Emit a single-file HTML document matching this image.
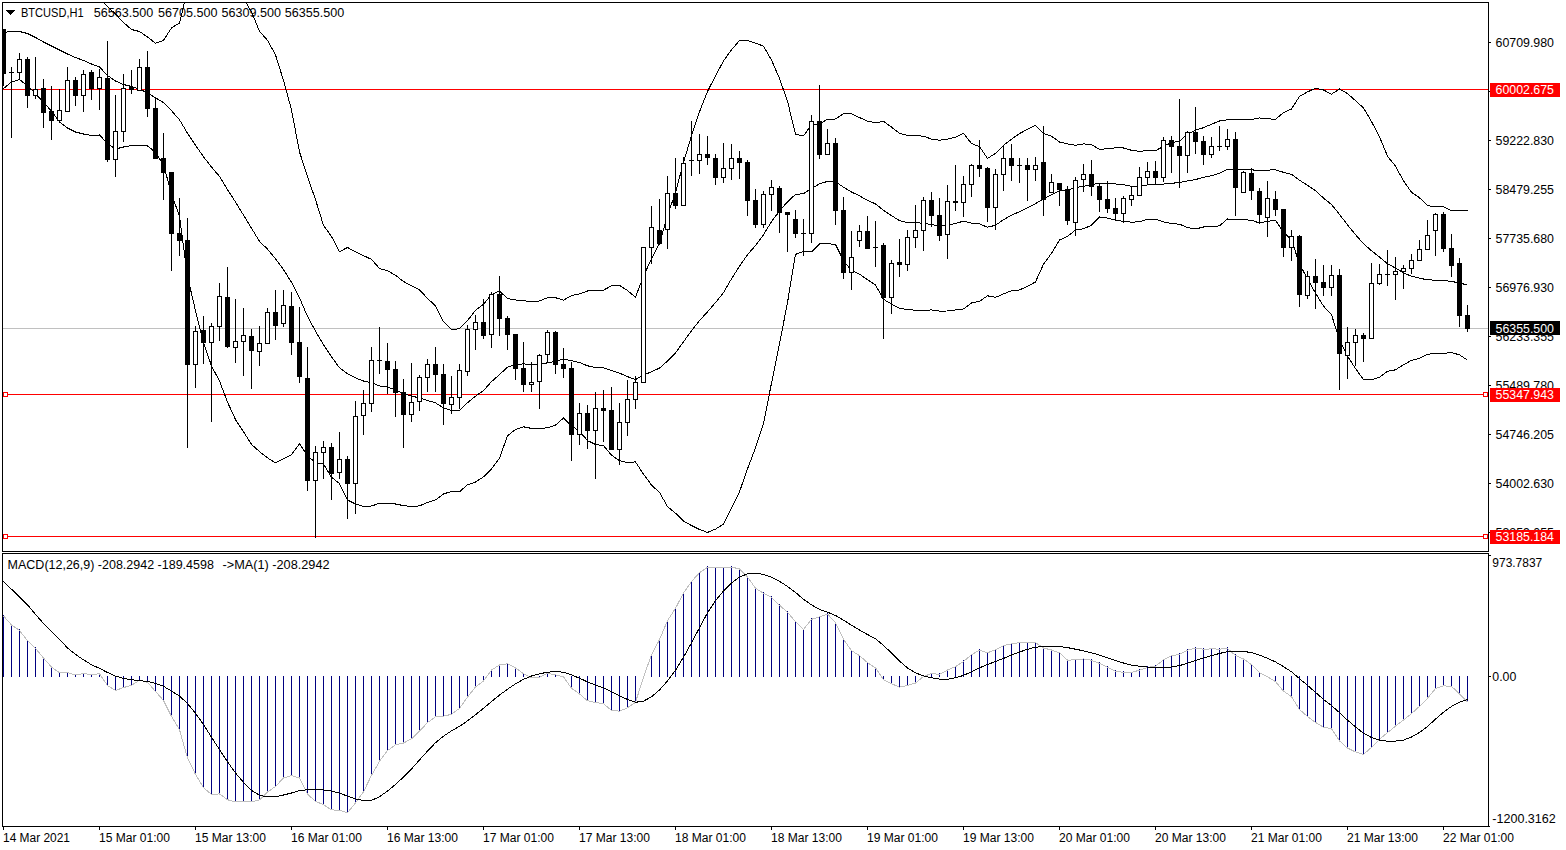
<!DOCTYPE html><html><head><meta charset="utf-8"><style>html,body{margin:0;padding:0;background:#fff;width:1566px;height:850px;overflow:hidden;position:relative}</style></head><body><svg width="1566" height="850" viewBox="0 0 1566 850" style="position:absolute;left:0;top:0"><defs><clipPath id="cm"><rect x="3" y="3" width="1485" height="548"/></clipPath><clipPath id="cd"><rect x="3" y="554" width="1485" height="272"/></clipPath></defs><g shape-rendering="crispEdges"><rect x="2" y="2" width="1487" height="1" fill="#000"/><rect x="2" y="551" width="1487" height="1" fill="#000"/><rect x="2" y="2" width="1" height="550" fill="#000"/><rect x="1488" y="2" width="1" height="550" fill="#000"/><rect x="2" y="553" width="1487" height="1" fill="#000"/><rect x="2" y="826" width="1487" height="1" fill="#000"/><rect x="2" y="553" width="1" height="274" fill="#000"/><rect x="1488" y="553" width="1" height="274" fill="#000"/></g><g clip-path="url(#cm)" shape-rendering="crispEdges"><rect x="3" y="328" width="1485" height="1" fill="#c0c0c0"/><rect x="3" y="89" width="1485" height="1" fill="#ff0000"/><rect x="3" y="394" width="1485" height="1" fill="#ff0000"/><rect x="3" y="536" width="1485" height="1" fill="#ff0000"/><rect x="3.5" y="392.5" width="4" height="4" fill="#fff" stroke="#ff0000" stroke-width="1"/><rect x="1483.5" y="392.5" width="4" height="4" fill="#fff" stroke="#ff0000" stroke-width="1"/><rect x="3.5" y="534.5" width="4" height="4" fill="#fff" stroke="#ff0000" stroke-width="1"/><rect x="1483.5" y="534.5" width="4" height="4" fill="#fff" stroke="#ff0000" stroke-width="1"/><polyline points="3.5,-29.5 11.5,-29.5 19.5,-29.5 27.5,-29.5 35.5,-29.5 43.5,-29.5 51.5,-29.5 59.5,-29.5 67.5,-29.5 75.5,-29.5 83.5,-29.5 91.5,-24.5 99.5,-1.5 107.5,6.5 115.5,14.0 123.5,22.5 131.5,29.5 139.5,31.5 147.5,37.0 155.5,43.2 163.5,40.4 171.5,27.9 179.5,23.0 187.5,-10.0 195.5,-20.2 203.5,-28.8 211.5,-31.7 219.5,-28.2 227.5,-22.7 235.5,-15.6 243.5,-1.7 251.5,11.9 259.5,31.3 267.5,40.3 275.5,54.8 283.5,80.5 291.5,109.9 299.5,151.8 307.5,176.9 315.5,199.5 323.5,225.5 331.5,236.4 339.5,251.9 347.5,247.4 355.5,251.9 363.5,255.6 371.5,259.4 379.5,268.5 387.5,270.8 395.5,275.2 403.5,281.5 411.5,285.8 419.5,289.8 427.5,298.4 435.5,305.9 443.5,321.7 451.5,329.6 459.5,328.7 467.5,320.6 475.5,310.4 483.5,304.3 491.5,294.5 499.5,291.1 507.5,298.5 515.5,300.0 523.5,300.8 531.5,301.4 539.5,301.0 547.5,297.7 555.5,297.7 563.5,300.1 571.5,295.7 579.5,293.8 587.5,291.0 595.5,290.5 603.5,290.1 611.5,285.8 619.5,285.4 627.5,290.5 635.5,297.2 643.5,276.1 651.5,258.6 659.5,243.6 667.5,215.5 675.5,192.5 683.5,162.4 691.5,135.9 699.5,111.8 707.5,91.4 715.5,76.0 723.5,60.9 731.5,49.7 739.5,40.6 747.5,40.6 755.5,43.1 763.5,46.1 771.5,60.1 779.5,78.5 787.5,101.1 795.5,134.4 803.5,135.9 811.5,124.8 819.5,124.0 827.5,119.2 835.5,119.0 843.5,113.7 851.5,113.6 859.5,117.6 867.5,121.1 875.5,122.8 883.5,121.4 891.5,127.1 899.5,133.3 907.5,135.3 915.5,135.6 923.5,136.2 931.5,139.1 939.5,140.3 947.5,139.1 955.5,137.1 963.5,133.2 971.5,143.6 979.5,146.5 987.5,158.5 995.5,153.3 1003.5,145.4 1011.5,139.3 1019.5,133.5 1027.5,129.4 1035.5,125.4 1043.5,133.4 1051.5,136.2 1059.5,142.0 1067.5,143.9 1075.5,145.2 1083.5,143.9 1091.5,144.6 1099.5,149.3 1107.5,148.8 1115.5,147.8 1123.5,148.0 1131.5,150.3 1139.5,151.4 1147.5,150.4 1155.5,150.7 1163.5,146.3 1171.5,142.7 1179.5,141.1 1187.5,134.1 1195.5,130.2 1203.5,127.7 1211.5,124.2 1219.5,121.0 1227.5,119.7 1235.5,119.6 1243.5,119.5 1251.5,119.4 1259.5,118.0 1267.5,118.8 1275.5,119.3 1283.5,112.5 1291.5,109.0 1299.5,96.4 1307.5,91.9 1315.5,88.2 1323.5,90.0 1331.5,94.2 1339.5,89.0 1347.5,93.6 1355.5,100.7 1363.5,108.0 1371.5,121.5 1379.5,136.8 1387.5,156.2 1395.5,166.2 1403.5,180.9 1411.5,192.2 1419.5,197.8 1427.5,205.6 1435.5,206.8 1443.5,206.9 1451.5,210.8 1459.5,210.5 1467.5,210.5" fill="none" stroke="#000" stroke-width="1" /><polyline points="3.5,32.5 11.5,31.5 19.5,31.5 27.5,33.5 35.5,37.5 43.5,42.0 51.5,46.0 59.5,50.0 67.5,54.0 75.5,57.5 83.5,60.5 91.5,64.0 99.5,67.0 107.5,75.5 115.5,81.0 123.5,84.5 131.5,86.5 139.5,89.0 147.5,93.0 155.5,97.7 163.5,102.7 171.5,110.7 179.5,119.8 187.5,133.2 195.5,145.3 203.5,156.8 211.5,167.1 219.5,176.4 227.5,189.7 235.5,202.0 243.5,215.1 251.5,228.2 259.5,241.4 267.5,249.1 275.5,258.8 283.5,269.6 291.5,282.3 299.5,297.8 307.5,316.4 315.5,331.1 323.5,344.8 331.5,356.8 339.5,367.8 347.5,373.7 355.5,377.9 363.5,381.0 371.5,382.7 379.5,385.9 387.5,387.1 395.5,389.6 403.5,393.6 411.5,396.1 419.5,397.9 427.5,400.4 435.5,402.9 443.5,407.8 451.5,410.6 459.5,410.2 467.5,402.7 475.5,396.2 483.5,390.6 491.5,381.6 499.5,374.6 507.5,367.1 515.5,364.8 523.5,363.8 531.5,364.9 539.5,364.6 547.5,362.8 555.5,361.4 563.5,359.1 571.5,360.7 579.5,362.5 587.5,365.8 595.5,367.5 603.5,367.9 611.5,370.4 619.5,373.1 627.5,376.6 635.5,379.6 643.5,375.1 651.5,371.8 659.5,368.1 667.5,361.0 675.5,352.9 683.5,341.8 691.5,330.7 699.5,320.6 707.5,311.9 715.5,302.6 723.5,292.6 731.5,278.8 739.5,266.2 747.5,254.7 755.5,245.5 763.5,234.7 771.5,221.6 779.5,211.1 787.5,201.8 795.5,194.4 803.5,193.7 811.5,188.4 819.5,183.9 827.5,181.4 835.5,181.7 843.5,187.2 851.5,192.0 859.5,195.8 867.5,200.4 875.5,203.9 883.5,210.3 891.5,215.6 899.5,220.7 907.5,222.6 915.5,222.8 923.5,223.2 931.5,224.6 939.5,225.7 947.5,225.1 955.5,223.5 963.5,221.1 971.5,223.2 979.5,223.9 987.5,227.2 995.5,225.3 1003.5,219.7 1011.5,215.1 1019.5,211.8 1027.5,207.8 1035.5,203.7 1043.5,198.8 1051.5,194.8 1059.5,191.0 1067.5,190.2 1075.5,187.7 1083.5,186.3 1091.5,184.9 1099.5,183.1 1107.5,183.4 1115.5,184.0 1123.5,184.7 1131.5,186.2 1139.5,186.7 1147.5,184.8 1155.5,185.0 1163.5,184.1 1171.5,183.2 1179.5,182.7 1187.5,180.8 1195.5,179.6 1203.5,177.3 1211.5,175.6 1219.5,173.4 1227.5,169.3 1235.5,169.7 1243.5,169.6 1251.5,169.8 1259.5,170.6 1267.5,170.1 1275.5,169.8 1283.5,172.3 1291.5,174.3 1299.5,180.2 1307.5,185.4 1315.5,190.7 1323.5,198.1 1331.5,204.5 1339.5,214.4 1347.5,224.9 1355.5,234.6 1363.5,243.8 1371.5,250.7 1379.5,257.1 1387.5,263.8 1395.5,268.0 1403.5,272.8 1411.5,276.3 1419.5,278.1 1427.5,279.9 1435.5,280.1 1443.5,280.2 1451.5,281.6 1459.5,282.7 1467.5,285.3" fill="none" stroke="#000" stroke-width="1" /><polyline points="3.5,88.5 11.5,82.0 19.5,79.5 27.5,86.0 35.5,93.5 43.5,102.5 51.5,111.0 59.5,122.0 67.5,128.0 75.5,132.0 83.5,134.0 91.5,135.5 99.5,135.0 107.5,143.5 115.5,149.0 123.5,147.0 131.5,145.5 139.5,145.5 147.5,146.0 155.5,152.2 163.5,164.9 171.5,193.5 179.5,216.5 187.5,276.4 195.5,310.8 203.5,342.4 211.5,365.9 219.5,381.0 227.5,402.1 235.5,419.6 243.5,431.8 251.5,444.4 259.5,451.6 267.5,457.9 275.5,462.8 283.5,458.8 291.5,454.7 299.5,443.7 307.5,455.8 315.5,462.6 323.5,464.1 331.5,477.2 339.5,483.6 347.5,500.0 355.5,504.0 363.5,506.4 371.5,506.0 379.5,503.3 387.5,503.3 395.5,504.0 403.5,505.6 411.5,506.5 419.5,505.9 427.5,502.5 435.5,499.9 443.5,493.9 451.5,491.5 459.5,491.8 467.5,484.8 475.5,482.0 483.5,476.9 491.5,468.8 499.5,458.1 507.5,435.8 515.5,429.5 523.5,426.8 531.5,428.4 539.5,428.3 547.5,427.9 555.5,425.1 563.5,418.1 571.5,425.7 579.5,431.2 587.5,440.6 595.5,444.5 603.5,445.6 611.5,455.1 619.5,460.7 627.5,462.6 635.5,461.9 643.5,474.2 651.5,485.0 659.5,492.5 667.5,506.5 675.5,513.2 683.5,521.2 691.5,525.5 699.5,529.5 707.5,532.4 715.5,529.1 723.5,524.2 731.5,507.8 739.5,491.8 747.5,468.8 755.5,447.9 763.5,423.3 771.5,383.1 779.5,343.7 787.5,302.6 795.5,254.4 803.5,251.5 811.5,252.0 819.5,243.9 827.5,243.7 835.5,244.4 843.5,260.6 851.5,270.4 859.5,274.1 867.5,279.7 875.5,285.0 883.5,299.3 891.5,304.1 899.5,308.1 907.5,309.8 915.5,310.1 923.5,310.1 931.5,310.0 939.5,311.1 947.5,311.0 955.5,309.9 963.5,308.9 971.5,302.9 979.5,301.4 987.5,295.8 995.5,297.4 1003.5,293.9 1011.5,290.8 1019.5,290.0 1027.5,286.2 1035.5,282.0 1043.5,264.2 1051.5,253.3 1059.5,240.0 1067.5,236.4 1075.5,230.1 1083.5,228.8 1091.5,225.2 1099.5,216.9 1107.5,218.1 1115.5,220.2 1123.5,221.4 1131.5,222.1 1139.5,221.9 1147.5,219.3 1155.5,219.3 1163.5,221.9 1171.5,223.6 1179.5,224.2 1187.5,227.5 1195.5,229.0 1203.5,227.0 1211.5,226.9 1219.5,225.8 1227.5,219.0 1235.5,219.8 1243.5,219.7 1251.5,220.2 1259.5,223.1 1267.5,221.3 1275.5,220.4 1283.5,232.1 1291.5,239.7 1299.5,264.0 1307.5,279.0 1315.5,293.2 1323.5,306.1 1331.5,314.8 1339.5,339.8 1347.5,356.2 1355.5,368.5 1363.5,379.6 1371.5,379.8 1379.5,377.3 1387.5,371.4 1395.5,369.8 1403.5,364.7 1411.5,360.4 1419.5,358.3 1427.5,354.2 1435.5,353.5 1443.5,353.5 1451.5,352.5 1459.5,354.9 1467.5,360.1" fill="none" stroke="#000" stroke-width="1" /><rect x="3" y="29" width="1" height="57" fill="#000"/><rect x="1" y="29" width="5" height="45" fill="#000"/><rect x="11" y="67" width="1" height="71" fill="#000"/><rect x="9" y="72" width="5" height="1" fill="#000"/><rect x="19" y="53" width="1" height="26" fill="#000"/><rect x="17" y="59" width="5" height="14" fill="#000"/><rect x="18" y="60" width="3" height="12" fill="#fff"/><rect x="27" y="57" width="1" height="51" fill="#000"/><rect x="25" y="59" width="5" height="37" fill="#000"/><rect x="35" y="57" width="1" height="42" fill="#000"/><rect x="33" y="89" width="5" height="7" fill="#000"/><rect x="34" y="90" width="3" height="5" fill="#fff"/><rect x="43" y="79" width="1" height="49" fill="#000"/><rect x="41" y="88" width="5" height="25" fill="#000"/><rect x="51" y="86" width="1" height="54" fill="#000"/><rect x="49" y="111" width="5" height="10" fill="#000"/><rect x="59" y="89" width="1" height="34" fill="#000"/><rect x="57" y="110" width="5" height="11" fill="#000"/><rect x="58" y="111" width="3" height="9" fill="#fff"/><rect x="67" y="67" width="1" height="45" fill="#000"/><rect x="65" y="80" width="5" height="32" fill="#000"/><rect x="66" y="81" width="3" height="30" fill="#fff"/><rect x="75" y="77" width="1" height="29" fill="#000"/><rect x="73" y="80" width="5" height="16" fill="#000"/><rect x="83" y="70" width="1" height="42" fill="#000"/><rect x="81" y="74" width="5" height="22" fill="#000"/><rect x="82" y="75" width="3" height="20" fill="#fff"/><rect x="91" y="70" width="1" height="30" fill="#000"/><rect x="89" y="72" width="5" height="17" fill="#000"/><rect x="99" y="69" width="1" height="41" fill="#000"/><rect x="97" y="77" width="5" height="12" fill="#000"/><rect x="98" y="78" width="3" height="10" fill="#fff"/><rect x="107" y="41" width="1" height="121" fill="#000"/><rect x="105" y="78" width="5" height="82" fill="#000"/><rect x="115" y="95" width="1" height="82" fill="#000"/><rect x="113" y="131" width="5" height="29" fill="#000"/><rect x="114" y="132" width="3" height="27" fill="#fff"/><rect x="123" y="74" width="1" height="68" fill="#000"/><rect x="121" y="88" width="5" height="44" fill="#000"/><rect x="122" y="89" width="3" height="42" fill="#fff"/><rect x="131" y="70" width="1" height="24" fill="#000"/><rect x="129" y="87" width="5" height="3" fill="#000"/><rect x="139" y="59" width="1" height="32" fill="#000"/><rect x="137" y="67" width="5" height="24" fill="#000"/><rect x="138" y="68" width="3" height="22" fill="#fff"/><rect x="147" y="51" width="1" height="66" fill="#000"/><rect x="145" y="67" width="5" height="42" fill="#000"/><rect x="155" y="97" width="1" height="62" fill="#000"/><rect x="153" y="108" width="5" height="51" fill="#000"/><rect x="163" y="133" width="1" height="67" fill="#000"/><rect x="161" y="158" width="5" height="15" fill="#000"/><rect x="171" y="172" width="1" height="99" fill="#000"/><rect x="169" y="172" width="5" height="62" fill="#000"/><rect x="179" y="198" width="1" height="58" fill="#000"/><rect x="177" y="233" width="5" height="8" fill="#000"/><rect x="187" y="218" width="1" height="230" fill="#000"/><rect x="185" y="240" width="5" height="125" fill="#000"/><rect x="195" y="326" width="1" height="62" fill="#000"/><rect x="193" y="331" width="5" height="34" fill="#000"/><rect x="194" y="332" width="3" height="32" fill="#fff"/><rect x="203" y="316" width="1" height="48" fill="#000"/><rect x="201" y="330" width="5" height="13" fill="#000"/><rect x="211" y="323" width="1" height="99" fill="#000"/><rect x="209" y="326" width="5" height="17" fill="#000"/><rect x="210" y="327" width="3" height="15" fill="#fff"/><rect x="219" y="283" width="1" height="58" fill="#000"/><rect x="217" y="296" width="5" height="31" fill="#000"/><rect x="218" y="297" width="3" height="29" fill="#fff"/><rect x="227" y="267" width="1" height="81" fill="#000"/><rect x="225" y="297" width="5" height="50" fill="#000"/><rect x="235" y="299" width="1" height="64" fill="#000"/><rect x="233" y="341" width="5" height="7" fill="#000"/><rect x="234" y="342" width="3" height="5" fill="#fff"/><rect x="243" y="308" width="1" height="68" fill="#000"/><rect x="241" y="335" width="5" height="7" fill="#000"/><rect x="242" y="336" width="3" height="5" fill="#fff"/><rect x="251" y="329" width="1" height="60" fill="#000"/><rect x="249" y="336" width="5" height="15" fill="#000"/><rect x="259" y="326" width="1" height="40" fill="#000"/><rect x="257" y="343" width="5" height="9" fill="#000"/><rect x="258" y="344" width="3" height="7" fill="#fff"/><rect x="267" y="308" width="1" height="36" fill="#000"/><rect x="265" y="312" width="5" height="32" fill="#000"/><rect x="266" y="313" width="3" height="30" fill="#fff"/><rect x="275" y="290" width="1" height="50" fill="#000"/><rect x="273" y="312" width="5" height="14" fill="#000"/><rect x="283" y="290" width="1" height="37" fill="#000"/><rect x="281" y="305" width="5" height="19" fill="#000"/><rect x="282" y="306" width="3" height="17" fill="#fff"/><rect x="291" y="292" width="1" height="63" fill="#000"/><rect x="289" y="306" width="5" height="37" fill="#000"/><rect x="299" y="307" width="1" height="76" fill="#000"/><rect x="297" y="342" width="5" height="35" fill="#000"/><rect x="307" y="347" width="1" height="144" fill="#000"/><rect x="305" y="378" width="5" height="103" fill="#000"/><rect x="315" y="446" width="1" height="92" fill="#000"/><rect x="313" y="452" width="5" height="29" fill="#000"/><rect x="314" y="453" width="3" height="27" fill="#fff"/><rect x="323" y="441" width="1" height="38" fill="#000"/><rect x="321" y="447" width="5" height="6" fill="#000"/><rect x="322" y="448" width="3" height="4" fill="#fff"/><rect x="331" y="443" width="1" height="57" fill="#000"/><rect x="329" y="447" width="5" height="27" fill="#000"/><rect x="339" y="432" width="1" height="47" fill="#000"/><rect x="337" y="459" width="5" height="14" fill="#000"/><rect x="338" y="460" width="3" height="12" fill="#fff"/><rect x="347" y="456" width="1" height="63" fill="#000"/><rect x="345" y="459" width="5" height="25" fill="#000"/><rect x="355" y="401" width="1" height="113" fill="#000"/><rect x="353" y="416" width="5" height="68" fill="#000"/><rect x="354" y="417" width="3" height="66" fill="#fff"/><rect x="363" y="390" width="1" height="45" fill="#000"/><rect x="361" y="403" width="5" height="13" fill="#000"/><rect x="362" y="404" width="3" height="11" fill="#fff"/><rect x="371" y="347" width="1" height="65" fill="#000"/><rect x="369" y="360" width="5" height="44" fill="#000"/><rect x="370" y="361" width="3" height="42" fill="#fff"/><rect x="379" y="327" width="1" height="47" fill="#000"/><rect x="377" y="360" width="5" height="1" fill="#000"/><rect x="387" y="343" width="1" height="51" fill="#000"/><rect x="385" y="361" width="5" height="9" fill="#000"/><rect x="395" y="361" width="1" height="56" fill="#000"/><rect x="393" y="369" width="5" height="24" fill="#000"/><rect x="403" y="379" width="1" height="69" fill="#000"/><rect x="401" y="392" width="5" height="23" fill="#000"/><rect x="411" y="363" width="1" height="59" fill="#000"/><rect x="409" y="402" width="5" height="13" fill="#000"/><rect x="410" y="403" width="3" height="11" fill="#fff"/><rect x="419" y="375" width="1" height="36" fill="#000"/><rect x="417" y="377" width="5" height="25" fill="#000"/><rect x="418" y="378" width="3" height="23" fill="#fff"/><rect x="427" y="359" width="1" height="33" fill="#000"/><rect x="425" y="364" width="5" height="14" fill="#000"/><rect x="426" y="365" width="3" height="12" fill="#fff"/><rect x="435" y="347" width="1" height="45" fill="#000"/><rect x="433" y="364" width="5" height="11" fill="#000"/><rect x="443" y="364" width="1" height="61" fill="#000"/><rect x="441" y="374" width="5" height="30" fill="#000"/><rect x="451" y="376" width="1" height="38" fill="#000"/><rect x="449" y="397" width="5" height="8" fill="#000"/><rect x="450" y="398" width="3" height="6" fill="#fff"/><rect x="459" y="364" width="1" height="45" fill="#000"/><rect x="457" y="370" width="5" height="28" fill="#000"/><rect x="458" y="371" width="3" height="26" fill="#fff"/><rect x="467" y="325" width="1" height="51" fill="#000"/><rect x="465" y="329" width="5" height="43" fill="#000"/><rect x="466" y="330" width="3" height="41" fill="#fff"/><rect x="475" y="315" width="1" height="35" fill="#000"/><rect x="473" y="322" width="5" height="8" fill="#000"/><rect x="474" y="323" width="3" height="6" fill="#fff"/><rect x="483" y="299" width="1" height="40" fill="#000"/><rect x="481" y="322" width="5" height="14" fill="#000"/><rect x="491" y="292" width="1" height="56" fill="#000"/><rect x="489" y="294" width="5" height="41" fill="#000"/><rect x="490" y="295" width="3" height="39" fill="#fff"/><rect x="499" y="276" width="1" height="60" fill="#000"/><rect x="497" y="294" width="5" height="25" fill="#000"/><rect x="507" y="316" width="1" height="34" fill="#000"/><rect x="505" y="318" width="5" height="17" fill="#000"/><rect x="515" y="334" width="1" height="46" fill="#000"/><rect x="513" y="334" width="5" height="35" fill="#000"/><rect x="523" y="342" width="1" height="50" fill="#000"/><rect x="521" y="368" width="5" height="17" fill="#000"/><rect x="531" y="362" width="1" height="30" fill="#000"/><rect x="529" y="382" width="5" height="3" fill="#000"/><rect x="530" y="383" width="3" height="1" fill="#fff"/><rect x="539" y="354" width="1" height="55" fill="#000"/><rect x="537" y="355" width="5" height="27" fill="#000"/><rect x="538" y="356" width="3" height="25" fill="#fff"/><rect x="547" y="330" width="1" height="33" fill="#000"/><rect x="545" y="332" width="5" height="23" fill="#000"/><rect x="546" y="333" width="3" height="21" fill="#fff"/><rect x="555" y="331" width="1" height="43" fill="#000"/><rect x="553" y="332" width="5" height="33" fill="#000"/><rect x="563" y="348" width="1" height="30" fill="#000"/><rect x="561" y="364" width="5" height="5" fill="#000"/><rect x="571" y="362" width="1" height="99" fill="#000"/><rect x="569" y="368" width="5" height="67" fill="#000"/><rect x="579" y="403" width="1" height="42" fill="#000"/><rect x="577" y="413" width="5" height="22" fill="#000"/><rect x="578" y="414" width="3" height="20" fill="#fff"/><rect x="587" y="405" width="1" height="44" fill="#000"/><rect x="585" y="413" width="5" height="18" fill="#000"/><rect x="595" y="392" width="1" height="87" fill="#000"/><rect x="593" y="408" width="5" height="23" fill="#000"/><rect x="594" y="409" width="3" height="21" fill="#fff"/><rect x="603" y="390" width="1" height="52" fill="#000"/><rect x="601" y="408" width="5" height="3" fill="#000"/><rect x="611" y="387" width="1" height="63" fill="#000"/><rect x="609" y="410" width="5" height="40" fill="#000"/><rect x="619" y="403" width="1" height="62" fill="#000"/><rect x="617" y="422" width="5" height="28" fill="#000"/><rect x="618" y="423" width="3" height="26" fill="#fff"/><rect x="627" y="380" width="1" height="56" fill="#000"/><rect x="625" y="399" width="5" height="24" fill="#000"/><rect x="626" y="400" width="3" height="22" fill="#fff"/><rect x="635" y="376" width="1" height="33" fill="#000"/><rect x="633" y="382" width="5" height="18" fill="#000"/><rect x="634" y="383" width="3" height="16" fill="#fff"/><rect x="643" y="247" width="1" height="136" fill="#000"/><rect x="641" y="247" width="5" height="136" fill="#000"/><rect x="642" y="248" width="3" height="134" fill="#fff"/><rect x="651" y="206" width="1" height="58" fill="#000"/><rect x="649" y="227" width="5" height="21" fill="#000"/><rect x="650" y="228" width="3" height="19" fill="#fff"/><rect x="659" y="199" width="1" height="45" fill="#000"/><rect x="657" y="230" width="5" height="14" fill="#000"/><rect x="667" y="176" width="1" height="73" fill="#000"/><rect x="665" y="193" width="5" height="37" fill="#000"/><rect x="666" y="194" width="3" height="35" fill="#fff"/><rect x="675" y="158" width="1" height="51" fill="#000"/><rect x="673" y="193" width="5" height="13" fill="#000"/><rect x="683" y="157" width="1" height="49" fill="#000"/><rect x="681" y="163" width="5" height="43" fill="#000"/><rect x="682" y="164" width="3" height="41" fill="#fff"/><rect x="691" y="121" width="1" height="55" fill="#000"/><rect x="689" y="160" width="5" height="1" fill="#000"/><rect x="699" y="134" width="1" height="40" fill="#000"/><rect x="697" y="154" width="5" height="7" fill="#000"/><rect x="698" y="155" width="3" height="5" fill="#fff"/><rect x="707" y="136" width="1" height="29" fill="#000"/><rect x="705" y="154" width="5" height="4" fill="#000"/><rect x="715" y="154" width="1" height="31" fill="#000"/><rect x="713" y="158" width="5" height="20" fill="#000"/><rect x="723" y="143" width="1" height="40" fill="#000"/><rect x="721" y="168" width="5" height="10" fill="#000"/><rect x="722" y="169" width="3" height="8" fill="#fff"/><rect x="731" y="144" width="1" height="36" fill="#000"/><rect x="729" y="158" width="5" height="11" fill="#000"/><rect x="730" y="159" width="3" height="9" fill="#fff"/><rect x="739" y="151" width="1" height="28" fill="#000"/><rect x="737" y="158" width="5" height="5" fill="#000"/><rect x="747" y="160" width="1" height="56" fill="#000"/><rect x="745" y="162" width="5" height="39" fill="#000"/><rect x="755" y="189" width="1" height="39" fill="#000"/><rect x="753" y="200" width="5" height="25" fill="#000"/><rect x="763" y="191" width="1" height="37" fill="#000"/><rect x="761" y="194" width="5" height="31" fill="#000"/><rect x="762" y="195" width="3" height="29" fill="#fff"/><rect x="771" y="180" width="1" height="31" fill="#000"/><rect x="769" y="187" width="5" height="8" fill="#000"/><rect x="770" y="188" width="3" height="6" fill="#fff"/><rect x="779" y="186" width="1" height="47" fill="#000"/><rect x="777" y="188" width="5" height="25" fill="#000"/><rect x="787" y="212" width="1" height="40" fill="#000"/><rect x="785" y="212" width="5" height="3" fill="#000"/><rect x="795" y="210" width="1" height="28" fill="#000"/><rect x="793" y="219" width="5" height="15" fill="#000"/><rect x="803" y="219" width="1" height="37" fill="#000"/><rect x="801" y="233" width="5" height="1" fill="#000"/><rect x="811" y="115" width="1" height="128" fill="#000"/><rect x="809" y="121" width="5" height="113" fill="#000"/><rect x="810" y="122" width="3" height="111" fill="#fff"/><rect x="819" y="85" width="1" height="74" fill="#000"/><rect x="817" y="121" width="5" height="34" fill="#000"/><rect x="827" y="129" width="1" height="26" fill="#000"/><rect x="825" y="143" width="5" height="12" fill="#000"/><rect x="826" y="144" width="3" height="10" fill="#fff"/><rect x="835" y="138" width="1" height="87" fill="#000"/><rect x="833" y="143" width="5" height="68" fill="#000"/><rect x="843" y="197" width="1" height="82" fill="#000"/><rect x="841" y="210" width="5" height="63" fill="#000"/><rect x="851" y="231" width="1" height="59" fill="#000"/><rect x="849" y="257" width="5" height="16" fill="#000"/><rect x="850" y="258" width="3" height="14" fill="#fff"/><rect x="859" y="225" width="1" height="22" fill="#000"/><rect x="857" y="231" width="5" height="10" fill="#000"/><rect x="858" y="232" width="3" height="8" fill="#fff"/><rect x="867" y="216" width="1" height="33" fill="#000"/><rect x="865" y="231" width="5" height="18" fill="#000"/><rect x="875" y="221" width="1" height="46" fill="#000"/><rect x="873" y="247" width="5" height="1" fill="#000"/><rect x="883" y="243" width="1" height="96" fill="#000"/><rect x="881" y="245" width="5" height="53" fill="#000"/><rect x="891" y="260" width="1" height="54" fill="#000"/><rect x="889" y="263" width="5" height="35" fill="#000"/><rect x="890" y="264" width="3" height="33" fill="#fff"/><rect x="899" y="239" width="1" height="38" fill="#000"/><rect x="897" y="262" width="5" height="3" fill="#000"/><rect x="907" y="230" width="1" height="41" fill="#000"/><rect x="905" y="237" width="5" height="28" fill="#000"/><rect x="906" y="238" width="3" height="26" fill="#fff"/><rect x="915" y="205" width="1" height="43" fill="#000"/><rect x="913" y="230" width="5" height="8" fill="#000"/><rect x="914" y="231" width="3" height="6" fill="#fff"/><rect x="923" y="197" width="1" height="54" fill="#000"/><rect x="921" y="200" width="5" height="31" fill="#000"/><rect x="922" y="201" width="3" height="29" fill="#fff"/><rect x="931" y="192" width="1" height="35" fill="#000"/><rect x="929" y="200" width="5" height="16" fill="#000"/><rect x="939" y="198" width="1" height="43" fill="#000"/><rect x="937" y="215" width="5" height="21" fill="#000"/><rect x="947" y="185" width="1" height="74" fill="#000"/><rect x="945" y="201" width="5" height="34" fill="#000"/><rect x="946" y="202" width="3" height="32" fill="#fff"/><rect x="955" y="165" width="1" height="46" fill="#000"/><rect x="953" y="201" width="5" height="2" fill="#000"/><rect x="963" y="176" width="1" height="41" fill="#000"/><rect x="961" y="184" width="5" height="19" fill="#000"/><rect x="962" y="185" width="3" height="17" fill="#fff"/><rect x="971" y="164" width="1" height="33" fill="#000"/><rect x="969" y="165" width="5" height="20" fill="#000"/><rect x="970" y="166" width="3" height="18" fill="#fff"/><rect x="979" y="140" width="1" height="37" fill="#000"/><rect x="977" y="165" width="5" height="4" fill="#000"/><rect x="987" y="167" width="1" height="55" fill="#000"/><rect x="985" y="168" width="5" height="40" fill="#000"/><rect x="995" y="169" width="1" height="61" fill="#000"/><rect x="993" y="174" width="5" height="34" fill="#000"/><rect x="994" y="175" width="3" height="32" fill="#fff"/><rect x="1003" y="146" width="1" height="45" fill="#000"/><rect x="1001" y="158" width="5" height="17" fill="#000"/><rect x="1002" y="159" width="3" height="15" fill="#fff"/><rect x="1011" y="144" width="1" height="37" fill="#000"/><rect x="1009" y="158" width="5" height="8" fill="#000"/><rect x="1019" y="158" width="1" height="25" fill="#000"/><rect x="1017" y="165" width="5" height="1" fill="#000"/><rect x="1027" y="158" width="1" height="43" fill="#000"/><rect x="1025" y="165" width="5" height="5" fill="#000"/><rect x="1035" y="157" width="1" height="24" fill="#000"/><rect x="1033" y="165" width="5" height="5" fill="#000"/><rect x="1034" y="166" width="3" height="3" fill="#fff"/><rect x="1043" y="126" width="1" height="90" fill="#000"/><rect x="1041" y="162" width="5" height="38" fill="#000"/><rect x="1051" y="174" width="1" height="19" fill="#000"/><rect x="1049" y="182" width="5" height="11" fill="#000"/><rect x="1050" y="183" width="3" height="9" fill="#fff"/><rect x="1059" y="183" width="1" height="23" fill="#000"/><rect x="1057" y="183" width="5" height="7" fill="#000"/><rect x="1067" y="186" width="1" height="39" fill="#000"/><rect x="1065" y="189" width="5" height="32" fill="#000"/><rect x="1075" y="177" width="1" height="59" fill="#000"/><rect x="1073" y="180" width="5" height="43" fill="#000"/><rect x="1074" y="181" width="3" height="41" fill="#fff"/><rect x="1083" y="164" width="1" height="28" fill="#000"/><rect x="1081" y="174" width="5" height="6" fill="#000"/><rect x="1082" y="175" width="3" height="4" fill="#fff"/><rect x="1091" y="160" width="1" height="36" fill="#000"/><rect x="1089" y="174" width="5" height="13" fill="#000"/><rect x="1099" y="184" width="1" height="28" fill="#000"/><rect x="1097" y="186" width="5" height="14" fill="#000"/><rect x="1107" y="181" width="1" height="32" fill="#000"/><rect x="1105" y="199" width="5" height="10" fill="#000"/><rect x="1115" y="198" width="1" height="22" fill="#000"/><rect x="1113" y="208" width="5" height="6" fill="#000"/><rect x="1123" y="196" width="1" height="27" fill="#000"/><rect x="1121" y="198" width="5" height="16" fill="#000"/><rect x="1122" y="199" width="3" height="14" fill="#fff"/><rect x="1131" y="186" width="1" height="20" fill="#000"/><rect x="1129" y="195" width="5" height="5" fill="#000"/><rect x="1130" y="196" width="3" height="3" fill="#fff"/><rect x="1139" y="167" width="1" height="29" fill="#000"/><rect x="1137" y="177" width="5" height="19" fill="#000"/><rect x="1138" y="178" width="3" height="17" fill="#fff"/><rect x="1147" y="162" width="1" height="23" fill="#000"/><rect x="1145" y="171" width="5" height="7" fill="#000"/><rect x="1146" y="172" width="3" height="5" fill="#fff"/><rect x="1155" y="161" width="1" height="23" fill="#000"/><rect x="1153" y="171" width="5" height="7" fill="#000"/><rect x="1163" y="137" width="1" height="45" fill="#000"/><rect x="1161" y="140" width="5" height="38" fill="#000"/><rect x="1162" y="141" width="3" height="36" fill="#fff"/><rect x="1171" y="136" width="1" height="37" fill="#000"/><rect x="1169" y="140" width="5" height="7" fill="#000"/><rect x="1179" y="99" width="1" height="89" fill="#000"/><rect x="1177" y="146" width="5" height="10" fill="#000"/><rect x="1187" y="131" width="1" height="42" fill="#000"/><rect x="1185" y="132" width="5" height="24" fill="#000"/><rect x="1186" y="133" width="3" height="22" fill="#fff"/><rect x="1195" y="107" width="1" height="47" fill="#000"/><rect x="1193" y="132" width="5" height="10" fill="#000"/><rect x="1203" y="136" width="1" height="29" fill="#000"/><rect x="1201" y="141" width="5" height="14" fill="#000"/><rect x="1211" y="137" width="1" height="21" fill="#000"/><rect x="1209" y="146" width="5" height="9" fill="#000"/><rect x="1210" y="147" width="3" height="7" fill="#fff"/><rect x="1219" y="126" width="1" height="25" fill="#000"/><rect x="1217" y="146" width="5" height="1" fill="#000"/><rect x="1227" y="129" width="1" height="21" fill="#000"/><rect x="1225" y="139" width="5" height="8" fill="#000"/><rect x="1226" y="140" width="3" height="6" fill="#fff"/><rect x="1235" y="132" width="1" height="84" fill="#000"/><rect x="1233" y="139" width="5" height="49" fill="#000"/><rect x="1243" y="171" width="1" height="22" fill="#000"/><rect x="1241" y="172" width="5" height="21" fill="#000"/><rect x="1242" y="173" width="3" height="19" fill="#fff"/><rect x="1251" y="168" width="1" height="32" fill="#000"/><rect x="1249" y="173" width="5" height="18" fill="#000"/><rect x="1259" y="188" width="1" height="35" fill="#000"/><rect x="1257" y="191" width="5" height="24" fill="#000"/><rect x="1267" y="181" width="1" height="56" fill="#000"/><rect x="1265" y="198" width="5" height="20" fill="#000"/><rect x="1266" y="199" width="3" height="18" fill="#fff"/><rect x="1275" y="191" width="1" height="25" fill="#000"/><rect x="1273" y="199" width="5" height="11" fill="#000"/><rect x="1283" y="209" width="1" height="48" fill="#000"/><rect x="1281" y="209" width="5" height="39" fill="#000"/><rect x="1291" y="230" width="1" height="31" fill="#000"/><rect x="1289" y="236" width="5" height="12" fill="#000"/><rect x="1290" y="237" width="3" height="10" fill="#fff"/><rect x="1299" y="235" width="1" height="72" fill="#000"/><rect x="1297" y="236" width="5" height="59" fill="#000"/><rect x="1307" y="271" width="1" height="28" fill="#000"/><rect x="1305" y="276" width="5" height="20" fill="#000"/><rect x="1306" y="277" width="3" height="18" fill="#fff"/><rect x="1315" y="259" width="1" height="50" fill="#000"/><rect x="1313" y="276" width="5" height="7" fill="#000"/><rect x="1323" y="265" width="1" height="31" fill="#000"/><rect x="1321" y="282" width="5" height="6" fill="#000"/><rect x="1331" y="265" width="1" height="31" fill="#000"/><rect x="1329" y="275" width="5" height="13" fill="#000"/><rect x="1330" y="276" width="3" height="11" fill="#fff"/><rect x="1339" y="269" width="1" height="121" fill="#000"/><rect x="1337" y="275" width="5" height="79" fill="#000"/><rect x="1347" y="327" width="1" height="52" fill="#000"/><rect x="1345" y="342" width="5" height="14" fill="#000"/><rect x="1346" y="343" width="3" height="12" fill="#fff"/><rect x="1355" y="329" width="1" height="37" fill="#000"/><rect x="1353" y="335" width="5" height="8" fill="#000"/><rect x="1354" y="336" width="3" height="6" fill="#fff"/><rect x="1363" y="333" width="1" height="29" fill="#000"/><rect x="1361" y="335" width="5" height="4" fill="#000"/><rect x="1371" y="263" width="1" height="76" fill="#000"/><rect x="1369" y="283" width="5" height="56" fill="#000"/><rect x="1370" y="284" width="3" height="54" fill="#fff"/><rect x="1379" y="264" width="1" height="21" fill="#000"/><rect x="1377" y="274" width="5" height="10" fill="#000"/><rect x="1378" y="275" width="3" height="8" fill="#fff"/><rect x="1387" y="250" width="1" height="36" fill="#000"/><rect x="1385" y="274" width="5" height="1" fill="#000"/><rect x="1395" y="257" width="1" height="43" fill="#000"/><rect x="1393" y="271" width="5" height="4" fill="#000"/><rect x="1394" y="272" width="3" height="2" fill="#fff"/><rect x="1403" y="265" width="1" height="24" fill="#000"/><rect x="1401" y="268" width="5" height="4" fill="#000"/><rect x="1402" y="269" width="3" height="2" fill="#fff"/><rect x="1411" y="254" width="1" height="20" fill="#000"/><rect x="1409" y="260" width="5" height="9" fill="#000"/><rect x="1410" y="261" width="3" height="7" fill="#fff"/><rect x="1419" y="240" width="1" height="21" fill="#000"/><rect x="1417" y="249" width="5" height="12" fill="#000"/><rect x="1418" y="250" width="3" height="10" fill="#fff"/><rect x="1427" y="220" width="1" height="30" fill="#000"/><rect x="1425" y="235" width="5" height="15" fill="#000"/><rect x="1426" y="236" width="3" height="13" fill="#fff"/><rect x="1435" y="213" width="1" height="43" fill="#000"/><rect x="1433" y="214" width="5" height="17" fill="#000"/><rect x="1434" y="215" width="3" height="15" fill="#fff"/><rect x="1443" y="212" width="1" height="40" fill="#000"/><rect x="1441" y="214" width="5" height="35" fill="#000"/><rect x="1451" y="234" width="1" height="43" fill="#000"/><rect x="1449" y="248" width="5" height="18" fill="#000"/><rect x="1459" y="258" width="1" height="69" fill="#000"/><rect x="1457" y="263" width="5" height="53" fill="#000"/><rect x="1467" y="305" width="1" height="27" fill="#000"/><rect x="1465" y="315" width="5" height="14" fill="#000"/></g><g clip-path="url(#cd)" shape-rendering="crispEdges"><rect x="3" y="615" width="1" height="62" fill="#000080"/><rect x="11" y="624" width="1" height="53" fill="#000080"/><rect x="19" y="629" width="1" height="48" fill="#000080"/><rect x="27" y="640" width="1" height="37" fill="#000080"/><rect x="35" y="647" width="1" height="30" fill="#000080"/><rect x="43" y="657" width="1" height="20" fill="#000080"/><rect x="51" y="666" width="1" height="11" fill="#000080"/><rect x="59" y="672" width="1" height="5" fill="#000080"/><rect x="67" y="672" width="1" height="5" fill="#000080"/><rect x="75" y="674" width="1" height="3" fill="#000080"/><rect x="83" y="673" width="1" height="4" fill="#000080"/><rect x="91" y="674" width="1" height="3" fill="#000080"/><rect x="99" y="673" width="1" height="4" fill="#000080"/><rect x="107" y="676" width="1" height="10" fill="#000080"/><rect x="115" y="676" width="1" height="14" fill="#000080"/><rect x="123" y="676" width="1" height="12" fill="#000080"/><rect x="131" y="676" width="1" height="9" fill="#000080"/><rect x="139" y="676" width="1" height="4" fill="#000080"/><rect x="147" y="676" width="1" height="6" fill="#000080"/><rect x="155" y="676" width="1" height="15" fill="#000080"/><rect x="163" y="676" width="1" height="24" fill="#000080"/><rect x="171" y="676" width="1" height="41" fill="#000080"/><rect x="179" y="676" width="1" height="54" fill="#000080"/><rect x="187" y="676" width="1" height="82" fill="#000080"/><rect x="195" y="676" width="1" height="98" fill="#000080"/><rect x="203" y="676" width="1" height="112" fill="#000080"/><rect x="211" y="676" width="1" height="119" fill="#000080"/><rect x="219" y="676" width="1" height="118" fill="#000080"/><rect x="227" y="676" width="1" height="124" fill="#000080"/><rect x="235" y="676" width="1" height="126" fill="#000080"/><rect x="243" y="676" width="1" height="126" fill="#000080"/><rect x="251" y="676" width="1" height="126" fill="#000080"/><rect x="259" y="676" width="1" height="124" fill="#000080"/><rect x="267" y="676" width="1" height="116" fill="#000080"/><rect x="275" y="676" width="1" height="111" fill="#000080"/><rect x="283" y="676" width="1" height="102" fill="#000080"/><rect x="291" y="676" width="1" height="100" fill="#000080"/><rect x="299" y="676" width="1" height="102" fill="#000080"/><rect x="307" y="676" width="1" height="118" fill="#000080"/><rect x="315" y="676" width="1" height="125" fill="#000080"/><rect x="323" y="676" width="1" height="129" fill="#000080"/><rect x="331" y="676" width="1" height="134" fill="#000080"/><rect x="339" y="676" width="1" height="134" fill="#000080"/><rect x="347" y="676" width="1" height="137" fill="#000080"/><rect x="355" y="676" width="1" height="127" fill="#000080"/><rect x="363" y="676" width="1" height="116" fill="#000080"/><rect x="371" y="676" width="1" height="99" fill="#000080"/><rect x="379" y="676" width="1" height="85" fill="#000080"/><rect x="387" y="676" width="1" height="75" fill="#000080"/><rect x="395" y="676" width="1" height="69" fill="#000080"/><rect x="403" y="676" width="1" height="67" fill="#000080"/><rect x="411" y="676" width="1" height="63" fill="#000080"/><rect x="419" y="676" width="1" height="55" fill="#000080"/><rect x="427" y="676" width="1" height="47" fill="#000080"/><rect x="435" y="676" width="1" height="41" fill="#000080"/><rect x="443" y="676" width="1" height="40" fill="#000080"/><rect x="451" y="676" width="1" height="38" fill="#000080"/><rect x="459" y="676" width="1" height="32" fill="#000080"/><rect x="467" y="676" width="1" height="21" fill="#000080"/><rect x="475" y="676" width="1" height="11" fill="#000080"/><rect x="483" y="676" width="1" height="5" fill="#000080"/><rect x="491" y="669" width="1" height="8" fill="#000080"/><rect x="499" y="664" width="1" height="13" fill="#000080"/><rect x="507" y="663" width="1" height="14" fill="#000080"/><rect x="515" y="667" width="1" height="10" fill="#000080"/><rect x="523" y="673" width="1" height="4" fill="#000080"/><rect x="531" y="676" width="1" height="2" fill="#000080"/><rect x="539" y="676" width="1" height="1" fill="#000080"/><rect x="547" y="672" width="1" height="5" fill="#000080"/><rect x="555" y="674" width="1" height="3" fill="#000080"/><rect x="563" y="676" width="1" height="1" fill="#000080"/><rect x="571" y="676" width="1" height="12" fill="#000080"/><rect x="579" y="676" width="1" height="18" fill="#000080"/><rect x="587" y="676" width="1" height="25" fill="#000080"/><rect x="595" y="676" width="1" height="26" fill="#000080"/><rect x="603" y="676" width="1" height="28" fill="#000080"/><rect x="611" y="676" width="1" height="34" fill="#000080"/><rect x="619" y="676" width="1" height="35" fill="#000080"/><rect x="627" y="676" width="1" height="32" fill="#000080"/><rect x="635" y="676" width="1" height="26" fill="#000080"/><rect x="643" y="676" width="1" height="1" fill="#000080"/><rect x="651" y="654" width="1" height="23" fill="#000080"/><rect x="659" y="639" width="1" height="38" fill="#000080"/><rect x="667" y="620" width="1" height="57" fill="#000080"/><rect x="675" y="607" width="1" height="70" fill="#000080"/><rect x="683" y="592" width="1" height="85" fill="#000080"/><rect x="691" y="581" width="1" height="96" fill="#000080"/><rect x="699" y="572" width="1" height="105" fill="#000080"/><rect x="707" y="566" width="1" height="111" fill="#000080"/><rect x="715" y="567" width="1" height="110" fill="#000080"/><rect x="723" y="567" width="1" height="110" fill="#000080"/><rect x="731" y="566" width="1" height="111" fill="#000080"/><rect x="739" y="568" width="1" height="109" fill="#000080"/><rect x="747" y="576" width="1" height="101" fill="#000080"/><rect x="755" y="587" width="1" height="90" fill="#000080"/><rect x="763" y="592" width="1" height="85" fill="#000080"/><rect x="771" y="596" width="1" height="81" fill="#000080"/><rect x="779" y="604" width="1" height="73" fill="#000080"/><rect x="787" y="611" width="1" height="66" fill="#000080"/><rect x="795" y="621" width="1" height="56" fill="#000080"/><rect x="803" y="629" width="1" height="48" fill="#000080"/><rect x="811" y="618" width="1" height="59" fill="#000080"/><rect x="819" y="616" width="1" height="61" fill="#000080"/><rect x="827" y="613" width="1" height="64" fill="#000080"/><rect x="835" y="622" width="1" height="55" fill="#000080"/><rect x="843" y="638" width="1" height="39" fill="#000080"/><rect x="851" y="650" width="1" height="27" fill="#000080"/><rect x="859" y="655" width="1" height="22" fill="#000080"/><rect x="867" y="662" width="1" height="15" fill="#000080"/><rect x="875" y="667" width="1" height="10" fill="#000080"/><rect x="883" y="676" width="1" height="4" fill="#000080"/><rect x="891" y="676" width="1" height="8" fill="#000080"/><rect x="899" y="676" width="1" height="11" fill="#000080"/><rect x="907" y="676" width="1" height="9" fill="#000080"/><rect x="915" y="676" width="1" height="7" fill="#000080"/><rect x="923" y="675" width="1" height="2" fill="#000080"/><rect x="931" y="673" width="1" height="4" fill="#000080"/><rect x="939" y="673" width="1" height="4" fill="#000080"/><rect x="947" y="669" width="1" height="8" fill="#000080"/><rect x="955" y="666" width="1" height="11" fill="#000080"/><rect x="963" y="660" width="1" height="17" fill="#000080"/><rect x="971" y="654" width="1" height="23" fill="#000080"/><rect x="979" y="649" width="1" height="28" fill="#000080"/><rect x="987" y="652" width="1" height="25" fill="#000080"/><rect x="995" y="649" width="1" height="28" fill="#000080"/><rect x="1003" y="645" width="1" height="32" fill="#000080"/><rect x="1011" y="643" width="1" height="34" fill="#000080"/><rect x="1019" y="642" width="1" height="35" fill="#000080"/><rect x="1027" y="642" width="1" height="35" fill="#000080"/><rect x="1035" y="642" width="1" height="35" fill="#000080"/><rect x="1043" y="647" width="1" height="30" fill="#000080"/><rect x="1051" y="649" width="1" height="28" fill="#000080"/><rect x="1059" y="652" width="1" height="25" fill="#000080"/><rect x="1067" y="659" width="1" height="18" fill="#000080"/><rect x="1075" y="659" width="1" height="18" fill="#000080"/><rect x="1083" y="658" width="1" height="19" fill="#000080"/><rect x="1091" y="659" width="1" height="18" fill="#000080"/><rect x="1099" y="662" width="1" height="15" fill="#000080"/><rect x="1107" y="666" width="1" height="11" fill="#000080"/><rect x="1115" y="670" width="1" height="7" fill="#000080"/><rect x="1123" y="671" width="1" height="6" fill="#000080"/><rect x="1131" y="672" width="1" height="5" fill="#000080"/><rect x="1139" y="669" width="1" height="8" fill="#000080"/><rect x="1147" y="666" width="1" height="11" fill="#000080"/><rect x="1155" y="665" width="1" height="12" fill="#000080"/><rect x="1163" y="659" width="1" height="18" fill="#000080"/><rect x="1171" y="655" width="1" height="22" fill="#000080"/><rect x="1179" y="653" width="1" height="24" fill="#000080"/><rect x="1187" y="649" width="1" height="28" fill="#000080"/><rect x="1195" y="647" width="1" height="30" fill="#000080"/><rect x="1203" y="648" width="1" height="29" fill="#000080"/><rect x="1211" y="648" width="1" height="29" fill="#000080"/><rect x="1219" y="648" width="1" height="29" fill="#000080"/><rect x="1227" y="647" width="1" height="30" fill="#000080"/><rect x="1235" y="654" width="1" height="23" fill="#000080"/><rect x="1243" y="658" width="1" height="19" fill="#000080"/><rect x="1251" y="664" width="1" height="13" fill="#000080"/><rect x="1259" y="672" width="1" height="5" fill="#000080"/><rect x="1267" y="676" width="1" height="1" fill="#000080"/><rect x="1275" y="676" width="1" height="6" fill="#000080"/><rect x="1283" y="676" width="1" height="15" fill="#000080"/><rect x="1291" y="676" width="1" height="21" fill="#000080"/><rect x="1299" y="676" width="1" height="33" fill="#000080"/><rect x="1307" y="676" width="1" height="40" fill="#000080"/><rect x="1315" y="676" width="1" height="46" fill="#000080"/><rect x="1323" y="676" width="1" height="51" fill="#000080"/><rect x="1331" y="676" width="1" height="53" fill="#000080"/><rect x="1339" y="676" width="1" height="65" fill="#000080"/><rect x="1347" y="676" width="1" height="72" fill="#000080"/><rect x="1355" y="676" width="1" height="76" fill="#000080"/><rect x="1363" y="676" width="1" height="78" fill="#000080"/><rect x="1371" y="676" width="1" height="71" fill="#000080"/><rect x="1379" y="676" width="1" height="63" fill="#000080"/><rect x="1387" y="676" width="1" height="57" fill="#000080"/><rect x="1395" y="676" width="1" height="50" fill="#000080"/><rect x="1403" y="676" width="1" height="44" fill="#000080"/><rect x="1411" y="676" width="1" height="38" fill="#000080"/><rect x="1419" y="676" width="1" height="30" fill="#000080"/><rect x="1427" y="676" width="1" height="22" fill="#000080"/><rect x="1435" y="676" width="1" height="13" fill="#000080"/><rect x="1443" y="676" width="1" height="10" fill="#000080"/><rect x="1451" y="676" width="1" height="10" fill="#000080"/><rect x="1459" y="676" width="1" height="18" fill="#000080"/><rect x="1467" y="676" width="1" height="26" fill="#000080"/><polyline points="3.5,616.0 11.5,624.9 19.5,630.5 27.5,640.8 35.5,648.3 43.5,658.0 51.5,667.1 59.5,672.7 67.5,672.7 75.5,674.9 83.5,673.5 91.5,674.6 99.5,673.8 107.5,685.5 115.5,690.4 123.5,687.6 131.5,685.3 139.5,680.2 147.5,682.3 155.5,691.4 163.5,700.5 171.5,716.5 179.5,729.7 187.5,758.1 195.5,774.4 203.5,787.8 211.5,794.5 219.5,793.9 227.5,799.7 235.5,802.0 243.5,801.5 251.5,801.9 259.5,799.8 267.5,792.0 275.5,786.5 283.5,778.0 291.5,775.7 299.5,777.9 307.5,794.2 315.5,801.3 323.5,804.8 331.5,809.9 339.5,810.3 347.5,812.7 355.5,802.9 363.5,791.8 371.5,775.3 379.5,761.3 387.5,750.6 395.5,744.9 403.5,743.0 411.5,738.9 419.5,731.2 427.5,722.6 435.5,716.8 443.5,716.2 451.5,714.3 459.5,708.4 467.5,697.1 475.5,687.0 483.5,681.0 491.5,670.0 499.5,665.0 507.5,663.7 515.5,667.9 523.5,673.8 531.5,678.0 539.5,677.3 547.5,673.2 555.5,674.9 563.5,676.8 571.5,688.3 579.5,693.9 587.5,700.7 595.5,702.5 603.5,703.8 611.5,710.4 619.5,711.2 627.5,707.8 635.5,702.3 643.5,677.3 651.5,654.7 659.5,639.6 667.5,620.7 675.5,608.3 683.5,593.0 691.5,581.6 699.5,572.7 707.5,567.4 715.5,567.6 723.5,567.5 731.5,567.2 739.5,568.8 747.5,577.0 755.5,588.2 763.5,593.4 771.5,597.4 779.5,605.2 787.5,612.4 795.5,621.7 803.5,629.5 811.5,619.3 819.5,616.9 827.5,614.1 835.5,622.6 843.5,639.3 851.5,650.6 859.5,655.7 867.5,662.6 875.5,667.9 883.5,679.7 891.5,683.8 899.5,687.1 907.5,685.5 915.5,683.0 923.5,676.5 931.5,673.6 939.5,674.4 947.5,670.0 955.5,666.7 963.5,661.5 971.5,654.7 979.5,650.1 987.5,652.7 995.5,649.9 1003.5,645.7 1011.5,643.8 1019.5,642.7 1027.5,642.7 1035.5,642.6 1043.5,648.0 1051.5,650.0 1059.5,652.8 1067.5,660.1 1075.5,659.9 1083.5,659.0 1091.5,660.3 1099.5,663.4 1107.5,667.4 1115.5,671.4 1123.5,672.3 1131.5,672.6 1139.5,670.1 1147.5,667.4 1155.5,666.2 1163.5,659.8 1171.5,655.9 1179.5,654.4 1187.5,650.1 1195.5,648.3 1203.5,649.2 1211.5,648.9 1219.5,649.1 1227.5,648.4 1235.5,655.5 1243.5,659.0 1251.5,664.6 1259.5,672.8 1267.5,676.8 1275.5,681.6 1283.5,691.1 1291.5,696.6 1299.5,709.5 1307.5,716.5 1315.5,722.4 1323.5,727.2 1331.5,728.7 1339.5,740.9 1347.5,748.1 1355.5,751.9 1363.5,754.5 1371.5,747.3 1379.5,739.4 1387.5,732.6 1395.5,726.1 1403.5,720.0 1411.5,713.6 1419.5,706.4 1427.5,698.3 1435.5,688.6 1443.5,685.9 1451.5,686.3 1459.5,694.0 1467.5,701.8" fill="none" stroke="#c0c0c0" stroke-width="1" /><polyline points="3.5,581.5 11.5,589.2 19.5,597.0 27.5,604.8 35.5,614.3 43.5,623.5 51.5,631.5 59.5,639.5 67.5,647.9 75.5,654.4 83.5,659.8 91.5,664.7 99.5,668.4 107.5,672.5 115.5,676.1 123.5,678.4 131.5,679.8 139.5,680.6 147.5,681.5 155.5,683.4 163.5,686.3 171.5,691.1 179.5,696.0 187.5,703.5 195.5,713.2 203.5,724.5 211.5,737.2 219.5,749.6 227.5,761.7 235.5,773.0 243.5,782.4 251.5,790.4 259.5,795.1 267.5,797.0 275.5,796.9 283.5,795.0 291.5,793.0 299.5,790.6 307.5,789.7 315.5,789.7 323.5,790.0 331.5,791.1 339.5,793.2 347.5,796.1 355.5,798.9 363.5,800.6 371.5,800.4 379.5,796.7 387.5,791.1 395.5,784.4 403.5,777.0 411.5,769.0 419.5,760.0 427.5,751.1 435.5,742.7 443.5,736.2 451.5,730.9 459.5,726.3 467.5,720.9 475.5,714.7 483.5,708.3 491.5,701.5 499.5,695.1 507.5,689.2 515.5,683.8 523.5,679.3 531.5,676.0 539.5,673.8 547.5,672.2 555.5,671.5 563.5,672.3 571.5,674.9 579.5,678.2 587.5,681.9 595.5,685.1 603.5,687.9 611.5,691.6 619.5,695.8 627.5,699.5 635.5,702.3 643.5,701.1 651.5,696.8 659.5,690.0 667.5,680.9 675.5,670.3 683.5,657.2 691.5,642.8 699.5,627.8 707.5,612.8 715.5,600.6 723.5,590.9 731.5,582.9 739.5,577.1 747.5,573.7 755.5,573.1 763.5,574.4 771.5,577.2 779.5,581.4 787.5,586.4 795.5,592.4 803.5,599.3 811.5,604.9 819.5,609.4 827.5,612.2 835.5,615.5 843.5,620.1 851.5,625.2 859.5,630.0 867.5,634.5 875.5,638.8 883.5,645.5 891.5,652.9 899.5,661.0 907.5,668.0 915.5,672.9 923.5,675.8 931.5,677.8 939.5,679.1 947.5,679.3 955.5,677.8 963.5,675.4 971.5,671.8 979.5,667.8 987.5,664.5 995.5,661.5 1003.5,658.4 1011.5,655.0 1019.5,652.0 1027.5,649.3 1035.5,647.2 1043.5,646.5 1051.5,646.4 1059.5,646.5 1067.5,647.6 1075.5,649.2 1083.5,650.8 1091.5,652.8 1099.5,655.1 1107.5,657.9 1115.5,660.5 1123.5,663.0 1131.5,665.1 1139.5,666.3 1147.5,667.1 1155.5,667.9 1163.5,667.9 1171.5,667.0 1179.5,665.6 1187.5,663.2 1195.5,660.5 1203.5,657.9 1211.5,655.6 1219.5,653.5 1227.5,651.6 1235.5,651.1 1243.5,651.4 1251.5,652.6 1259.5,655.1 1267.5,658.3 1275.5,661.9 1283.5,666.6 1291.5,671.8 1299.5,678.6 1307.5,685.4 1315.5,692.4 1323.5,699.4 1331.5,705.6 1339.5,712.7 1347.5,720.1 1355.5,726.9 1363.5,733.3 1371.5,737.5 1379.5,740.0 1387.5,741.2 1395.5,741.1 1403.5,740.1 1411.5,737.1 1419.5,732.4 1427.5,726.5 1435.5,719.1 1443.5,712.3 1451.5,706.4 1459.5,702.1 1467.5,699.4" fill="none" stroke="#000" stroke-width="1" /></g><g shape-rendering="crispEdges"><polygon points="6,10 15,10 10.5,15" fill="#000"/><text x="21" y="17" font-family="Liberation Sans, sans-serif" font-size="12" fill="#000" textLength="62.6" lengthAdjust="spacingAndGlyphs">BTCUSD,H1</text><text x="93.7" y="17" font-family="Liberation Sans, sans-serif" font-size="12" fill="#000" textLength="59.5" lengthAdjust="spacingAndGlyphs">56563.500</text><text x="158" y="17" font-family="Liberation Sans, sans-serif" font-size="12" fill="#000" textLength="59.5" lengthAdjust="spacingAndGlyphs">56705.500</text><text x="221.4" y="17" font-family="Liberation Sans, sans-serif" font-size="12" fill="#000" textLength="59.5" lengthAdjust="spacingAndGlyphs">56309.500</text><text x="284.8" y="17" font-family="Liberation Sans, sans-serif" font-size="12" fill="#000" textLength="59.5" lengthAdjust="spacingAndGlyphs">56355.500</text><rect x="1489" y="42" width="2" height="1" fill="#000"/><text x="1495.5" y="47" font-family="Liberation Sans, sans-serif" font-size="12" fill="#000" textLength="58.5" lengthAdjust="spacingAndGlyphs">60709.980</text><rect x="1489" y="140" width="2" height="1" fill="#000"/><text x="1495.5" y="145" font-family="Liberation Sans, sans-serif" font-size="12" fill="#000" textLength="58.5" lengthAdjust="spacingAndGlyphs">59222.830</text><rect x="1489" y="189" width="2" height="1" fill="#000"/><text x="1495.5" y="194" font-family="Liberation Sans, sans-serif" font-size="12" fill="#000" textLength="58.5" lengthAdjust="spacingAndGlyphs">58479.255</text><rect x="1489" y="238" width="2" height="1" fill="#000"/><text x="1495.5" y="243" font-family="Liberation Sans, sans-serif" font-size="12" fill="#000" textLength="58.5" lengthAdjust="spacingAndGlyphs">57735.680</text><rect x="1489" y="287" width="2" height="1" fill="#000"/><text x="1495.5" y="292" font-family="Liberation Sans, sans-serif" font-size="12" fill="#000" textLength="58.5" lengthAdjust="spacingAndGlyphs">56976.930</text><rect x="1489" y="336" width="2" height="1" fill="#000"/><text x="1495.5" y="341" font-family="Liberation Sans, sans-serif" font-size="12" fill="#000" textLength="58.5" lengthAdjust="spacingAndGlyphs">56233.355</text><rect x="1489" y="385" width="2" height="1" fill="#000"/><text x="1495.5" y="390" font-family="Liberation Sans, sans-serif" font-size="12" fill="#000" textLength="58.5" lengthAdjust="spacingAndGlyphs">55489.780</text><rect x="1489" y="434" width="2" height="1" fill="#000"/><text x="1495.5" y="439" font-family="Liberation Sans, sans-serif" font-size="12" fill="#000" textLength="58.5" lengthAdjust="spacingAndGlyphs">54746.205</text><rect x="1489" y="483" width="2" height="1" fill="#000"/><text x="1495.5" y="488" font-family="Liberation Sans, sans-serif" font-size="12" fill="#000" textLength="58.5" lengthAdjust="spacingAndGlyphs">54002.630</text><rect x="1489" y="532" width="2" height="1" fill="#000"/><text x="1495.5" y="537" font-family="Liberation Sans, sans-serif" font-size="12" fill="#000" textLength="58.5" lengthAdjust="spacingAndGlyphs">53259.055</text><rect x="1489" y="91" width="2" height="1" fill="#000"/><rect x="1490" y="83" width="70" height="14" fill="#ff0000"/><text x="1495.5" y="94" font-family="Liberation Sans, sans-serif" font-size="12" fill="#fff" textLength="58.5" lengthAdjust="spacingAndGlyphs">60002.675</text><rect x="1490" y="388" width="70" height="14" fill="#ff0000"/><text x="1495.5" y="399" font-family="Liberation Sans, sans-serif" font-size="12" fill="#fff" textLength="58.5" lengthAdjust="spacingAndGlyphs">55347.943</text><rect x="1490" y="530" width="70" height="14" fill="#ff0000"/><text x="1495.5" y="541" font-family="Liberation Sans, sans-serif" font-size="12" fill="#fff" textLength="58.5" lengthAdjust="spacingAndGlyphs">53185.184</text><rect x="1490" y="321" width="70" height="14" fill="#000"/><text x="1495.5" y="333" font-family="Liberation Sans, sans-serif" font-size="12" fill="#fff" textLength="58.5" lengthAdjust="spacingAndGlyphs">56355.500</text><rect x="1489" y="555" width="2" height="1" fill="#000"/><text x="1492.3" y="567" font-family="Liberation Sans, sans-serif" font-size="12" fill="#000" textLength="50" lengthAdjust="spacingAndGlyphs">973.7837</text><rect x="1489" y="676" width="2" height="1" fill="#000"/><text x="1492.3" y="681" font-family="Liberation Sans, sans-serif" font-size="12" fill="#000" textLength="24" lengthAdjust="spacingAndGlyphs">0.00</text><rect x="1489" y="826" width="1" height="1" fill="#000"/><text x="1492.3" y="823" font-family="Liberation Sans, sans-serif" font-size="12" fill="#000" textLength="63.5" lengthAdjust="spacingAndGlyphs">-1200.3162</text><text x="7.6" y="569" font-family="Liberation Sans, sans-serif" font-size="12" fill="#000" textLength="206.3" lengthAdjust="spacingAndGlyphs">MACD(12,26,9) -208.2942 -189.4598</text><text x="222.5" y="569" font-family="Liberation Sans, sans-serif" font-size="12" fill="#000" textLength="107.1" lengthAdjust="spacingAndGlyphs">-&gt;MA(1) -208.2942</text><rect x="3" y="827" width="1" height="3" fill="#000"/><text x="3" y="842" font-family="Liberation Sans, sans-serif" font-size="12" fill="#000" textLength="67" lengthAdjust="spacingAndGlyphs">14 Mar 2021</text><rect x="99" y="827" width="1" height="3" fill="#000"/><text x="99" y="842" font-family="Liberation Sans, sans-serif" font-size="12" fill="#000" textLength="71" lengthAdjust="spacingAndGlyphs">15 Mar 01:00</text><rect x="195" y="827" width="1" height="3" fill="#000"/><text x="195" y="842" font-family="Liberation Sans, sans-serif" font-size="12" fill="#000" textLength="71" lengthAdjust="spacingAndGlyphs">15 Mar 13:00</text><rect x="291" y="827" width="1" height="3" fill="#000"/><text x="291" y="842" font-family="Liberation Sans, sans-serif" font-size="12" fill="#000" textLength="71" lengthAdjust="spacingAndGlyphs">16 Mar 01:00</text><rect x="387" y="827" width="1" height="3" fill="#000"/><text x="387" y="842" font-family="Liberation Sans, sans-serif" font-size="12" fill="#000" textLength="71" lengthAdjust="spacingAndGlyphs">16 Mar 13:00</text><rect x="483" y="827" width="1" height="3" fill="#000"/><text x="483" y="842" font-family="Liberation Sans, sans-serif" font-size="12" fill="#000" textLength="71" lengthAdjust="spacingAndGlyphs">17 Mar 01:00</text><rect x="579" y="827" width="1" height="3" fill="#000"/><text x="579" y="842" font-family="Liberation Sans, sans-serif" font-size="12" fill="#000" textLength="71" lengthAdjust="spacingAndGlyphs">17 Mar 13:00</text><rect x="675" y="827" width="1" height="3" fill="#000"/><text x="675" y="842" font-family="Liberation Sans, sans-serif" font-size="12" fill="#000" textLength="71" lengthAdjust="spacingAndGlyphs">18 Mar 01:00</text><rect x="771" y="827" width="1" height="3" fill="#000"/><text x="771" y="842" font-family="Liberation Sans, sans-serif" font-size="12" fill="#000" textLength="71" lengthAdjust="spacingAndGlyphs">18 Mar 13:00</text><rect x="867" y="827" width="1" height="3" fill="#000"/><text x="867" y="842" font-family="Liberation Sans, sans-serif" font-size="12" fill="#000" textLength="71" lengthAdjust="spacingAndGlyphs">19 Mar 01:00</text><rect x="963" y="827" width="1" height="3" fill="#000"/><text x="963" y="842" font-family="Liberation Sans, sans-serif" font-size="12" fill="#000" textLength="71" lengthAdjust="spacingAndGlyphs">19 Mar 13:00</text><rect x="1059" y="827" width="1" height="3" fill="#000"/><text x="1059" y="842" font-family="Liberation Sans, sans-serif" font-size="12" fill="#000" textLength="71" lengthAdjust="spacingAndGlyphs">20 Mar 01:00</text><rect x="1155" y="827" width="1" height="3" fill="#000"/><text x="1155" y="842" font-family="Liberation Sans, sans-serif" font-size="12" fill="#000" textLength="71" lengthAdjust="spacingAndGlyphs">20 Mar 13:00</text><rect x="1251" y="827" width="1" height="3" fill="#000"/><text x="1251" y="842" font-family="Liberation Sans, sans-serif" font-size="12" fill="#000" textLength="71" lengthAdjust="spacingAndGlyphs">21 Mar 01:00</text><rect x="1347" y="827" width="1" height="3" fill="#000"/><text x="1347" y="842" font-family="Liberation Sans, sans-serif" font-size="12" fill="#000" textLength="71" lengthAdjust="spacingAndGlyphs">21 Mar 13:00</text><rect x="1443" y="827" width="1" height="3" fill="#000"/><text x="1443" y="842" font-family="Liberation Sans, sans-serif" font-size="12" fill="#000" textLength="71" lengthAdjust="spacingAndGlyphs">22 Mar 01:00</text></g></svg></body></html>
